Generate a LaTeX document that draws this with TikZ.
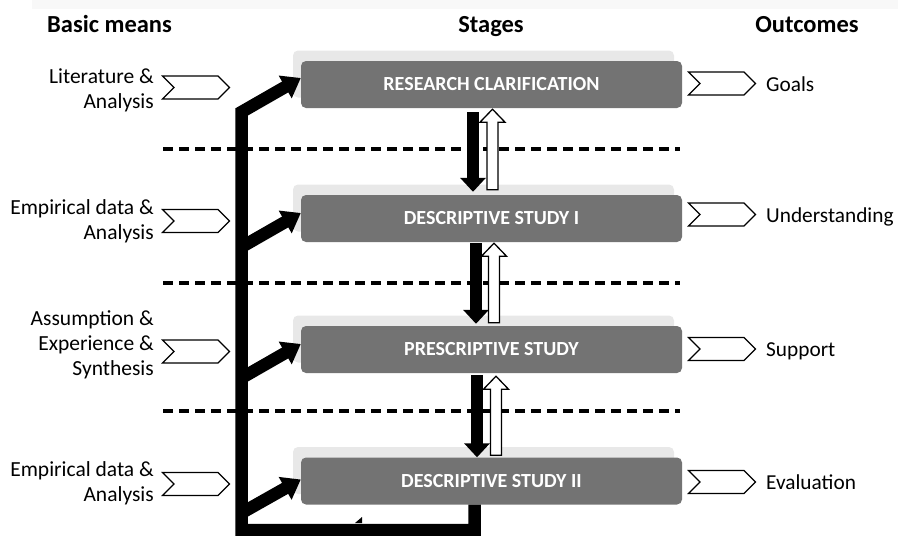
\documentclass[tikz,border=0pt]{standalone}
\usepackage{fontspec}
\setmainfont{Carlito}
\usetikzlibrary{arrows.meta,shapes.symbols,shadows,calc}

\definecolor{stagegrey}{HTML}{737373}
\definecolor{shadegrey}{HTML}{E8E8E8}
\definecolor{bandgrey}{HTML}{F8F8F8}

\tikzset{
  stage/.style={fill=stagegrey, rounded corners=5pt, minimum width=381pt,
    minimum height=47pt, inner sep=0pt, text=white,
    font=\fontsize{20}{24}\selectfont\bfseries,
    general shadow={fill=shadegrey, shadow xshift=-8pt, shadow yshift=10.5pt}},
  chevron/.style={signal, signal from=west, signal to=east, draw=black,
    line width=1.2pt, fill=white, minimum width=67pt, minimum height=23pt,
    inner sep=0pt},
  means/.style={align=right, anchor=east, inner sep=0pt,
    font=\fontsize{21.5}{25}\selectfont},
  outcome/.style={anchor=base west, inner sep=0pt,
    font=\fontsize{21.3}{25}\selectfont},
  heading/.style={anchor=base, font=\fontsize{24.5}{28}\selectfont\bfseries},
  sepline/.style={line width=3.5pt, dash pattern=on 10pt off 6pt},
  trunk/.style={line width=13pt, line join=miter},
  feed/.style={line width=12.5pt, -{Triangle[length=18pt,width=25pt]}},
  godown/.style={line width=12pt, -{Triangle[length=14pt,width=25pt]}},
  hollowarrow/.style={draw=black, fill=white, line width=1.3pt, line join=miter},
}

% hollow block arrow pointing up from #1 to #2
\newcommand\hollowup[2]{%
  \draw[hollowarrow] let \p1=#1, \p2=#2 in
    (\x1-5.5pt,\y1) -- (\x1-5.5pt,\y2-13pt) -- (\x1-12.5pt,\y2-13pt)
    -- (\x1,\y2) -- (\x1+12.5pt,\y2-13pt) -- (\x1+5.5pt,\y2-13pt)
    -- (\x1+5.5pt,\y1) -- cycle;}

\begin{document}
\begin{tikzpicture}[x=1pt,y=-1pt]
\useasboundingbox (0,0) rectangle (898,536);
\fill[bandgrey] (32,0) rectangle (898,9);

% column headings
\node[heading] (hmeans) at (109.5,32.5) {Basic means};
\node[heading] (hstages) at (491,32.5) {Stages};
\node[heading] (houts) at (807,32.5) {Outcomes};

% phase separators
\draw[sepline] (163,149) -- (680,149);
\draw[sepline] (163,283) -- (680,283);
\draw[sepline] (163,411) -- (680,411);

% stages
\node[stage] (b1) at (491.5,84.5) {RESEARCH CLARIFICATION};
\node[stage] (b2) at (491.5,218.5) {DESCRIPTIVE STUDY I};
\node[stage] (b3) at (491.5,349.5) {PRESCRIPTIVE STUDY};
\node[stage] (b4) at (491.5,481) {DESCRIPTIVE STUDY II};

% basic means
\node[chevron] (m1) at (196,87.5) {};
\node[chevron] (m2) at (196,221) {};
\node[chevron] (m3) at (196,351.5) {};
\node[chevron] (m4) at (196,484) {};
\node[means] (l1) at (154,90) {Literature \&\\Analysis};
\node[means] (l2) at (154,221) {Empirical data \&\\Analysis};
\node[means] (l3) at (154,345) {Assumption \&\\Experience \&\\Synthesis};
\node[means] (l4) at (154,483) {Empirical data \&\\Analysis};

% outcomes
\node[chevron] (o1) at (722,83.5) {};
\node[chevron] (o2) at (722,214.5) {};
\node[chevron] (o3) at (722,349) {};
\node[chevron] (o4) at (722,482) {};
\node[outcome] (t1) at (766,91) {Goals};
\node[outcome] (t2) at (766,222) {Understanding};
\node[outcome] (t3) at (766,356.5) {Support};
\node[outcome] (t4) at (766,489.5) {Evaluation};

% forward and backward flow between stages
\draw[godown] ([xshift=-18.5pt,yshift=-4pt]b1.south) -- ([xshift=-18.5pt,yshift=3pt]b2.north);
\draw[godown] ([xshift=-15.5pt,yshift=-1pt]b2.south) -- ([xshift=-15.5pt,yshift=2pt]b3.north);
\draw[godown] ([xshift=-14.5pt,yshift=-2pt]b3.south) -- ([xshift=-14.5pt]b4.north);
\hollowup{([xshift=1pt,yshift=5pt]b2.north)}{([xshift=1pt,yshift=-1pt]b1.south)}
\hollowup{([xshift=2.5pt,yshift=3pt]b3.north)}{([xshift=2.5pt,yshift=-1pt]b2.south)}
\hollowup{([xshift=4.5pt,yshift=2pt]b4.north)}{([xshift=4.5pt,yshift=-3pt]b3.south)}

% feedback loop back to the start
\coordinate (tbot) at (241.5,530);
\coordinate (ttop) at (241.5,112);
\coordinate (f2) at (241.5,247);
\coordinate (f3) at (241.5,378);
\coordinate (f4) at (241.5,513);
\draw[trunk, feed] ([xshift=-17pt]b4.south) |- (tbot) -- (ttop) -- ([yshift=6.5pt]b1.west);
\draw[feed] (f2) -- ([yshift=5.5pt]b2.west);
\draw[feed] (f3) -- ([yshift=5.5pt]b3.west);
\draw[feed] (f4) -- ([yshift=1.5pt]b4.west);
\fill (355,523) -- (362,517) -- (362,523) -- cycle;
\end{tikzpicture}
\end{document}
